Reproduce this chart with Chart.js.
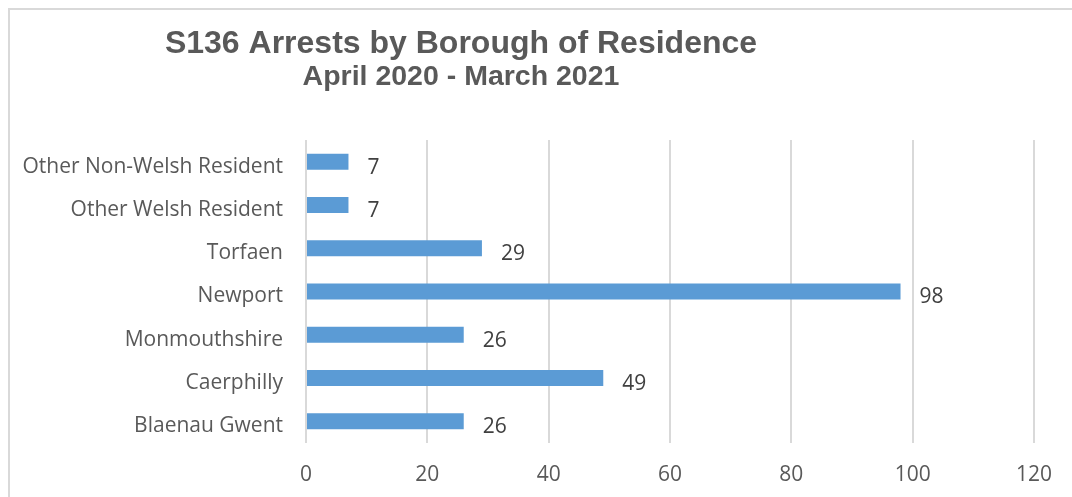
<!DOCTYPE html>
<html>
<head>
<meta charset="utf-8">
<script src="https://cdn.jsdelivr.net/npm/chart.js@4"></script>
<style>
    body { margin: 0; background: #fff; overflow: hidden; }
    #wrap { position: relative; width: 1072px; height: 497px; }
    #frame { position: absolute; left: 8px; top: 8px; width: 1100px; height: 540px; border: 2px solid #d9d9d9; }
    #chart { position: absolute; left: 0; top: 0; }
</style>
</head>
<body>
<div id="wrap">
    <div id="frame"></div>
    <canvas id="chart" width="1072" height="497"></canvas>
</div>
<script>
const titleLines = ['S136 Arrests by Borough of Residence', 'April 2020 - March 2021'];
const boroughs = ['Other Non-Welsh Resident', 'Other Welsh Resident', 'Torfaen', 'Newport', 'Monmouthshire', 'Caerphilly', 'Blaenau Gwent'];
const arrests = [7, 7, 29, 98, 26, 49, 26];
const xTicks = [0, 20, 40, 60, 80, 100, 120];

const labelFont = '"Open Sans", "Noto Sans", sans-serif';

// title is centred over the left part of the frame, as in the original
const titlePlugin = {
    id: 'titleLines',
    afterDraw(chart) {
        const c = chart.ctx;
        c.save();
        c.fillStyle = '#595959';
        c.textAlign = 'center';
        c.textBaseline = 'alphabetic';
        c.font = 'bold 32px "Liberation Sans", Arial, sans-serif';
        c.fillText(titleLines[0], 461, 53);
        c.font = 'bold 28.5px "Liberation Sans", Arial, sans-serif';
        c.fillText(titleLines[1], 461, 85);
        c.restore();
    }
};

const valueLabels = {
    id: 'valueLabels',
    afterDatasetsDraw(chart) {
        const c = chart.ctx;
        const meta = chart.getDatasetMeta(0);
        c.save();
        c.fillStyle = '#404040';
        c.font = '21px ' + labelFont;
        c.textAlign = 'left';
        c.textBaseline = 'middle';
        meta.data.forEach(function (bar, i) {
            c.fillText(String(arrests[i]), bar.x + 19, bar.y + 6);
        });
        c.restore();
    }
};

const ctx = document.getElementById('chart').getContext('2d');
const chart = new Chart(ctx, {
    type: 'bar',
    data: {
        labels: boroughs,
        datasets: [{
            data: arrests,
            backgroundColor: '#5b9bd5',
            borderWidth: 0,
            barPercentage: 0.37,
            categoryPercentage: 1
        }]
    },
    options: {
        indexAxis: 'y',
        responsive: false,
        animation: false,
        layout: {
            padding: { top: 140, right: 38, bottom: 0, left: 0 }
        },
        scales: {
            x: {
                min: 0,
                max: 120,
                afterBuildTicks(scale) {
                    scale.ticks = xTicks.map(v => ({ value: v }));
                },
                afterFit(scale) {
                    scale.height = 54;
                },
                grid: {
                    color: '#d9d9d9',
                    lineWidth: 2,
                    drawTicks: false
                },
                border: { display: false },
                ticks: {
                    padding: 19,
                    color: '#595959',
                    font: { family: labelFont, size: 21 }
                }
            },
            y: {
                afterFit(scale) {
                    scale.width = 306;
                },
                grid: { display: false },
                border: { display: false },
                ticks: {
                    padding: 15,
                    labelOffset: 5,
                    color: '#595959',
                    font: { family: labelFont, size: 21 }
                }
            }
        },
        plugins: {
            legend: { display: false },
            title: { display: false },
            tooltip: { enabled: false }
        }
    },
    plugins: [titlePlugin, valueLabels]
});
</script>
</body>
</html>
